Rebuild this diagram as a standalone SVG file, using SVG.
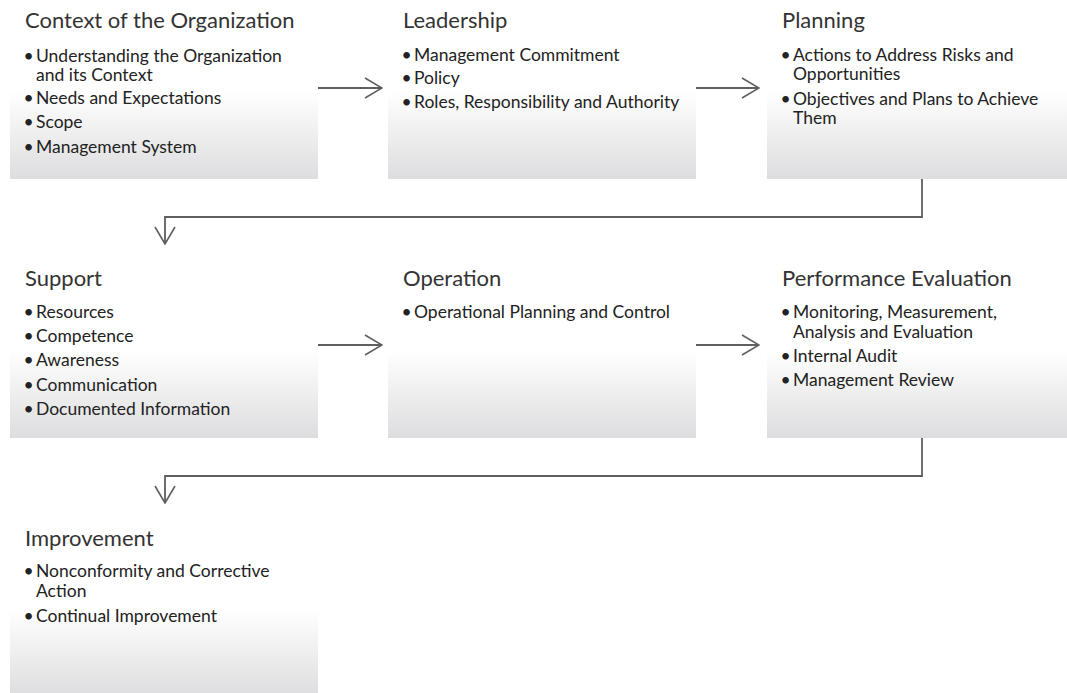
<svg xmlns="http://www.w3.org/2000/svg" width="1067" height="693" viewBox="0 0 1067 693">
<style>
.box{fill:url(#g)}
.t{font-family:Lato,"Liberation Sans",sans-serif;font-size:22px;fill:#333}
.b{font-family:Lato,"Liberation Sans",sans-serif;font-size:17.5px;fill:#222}
.d{font-family:Lato,"Liberation Sans",sans-serif;font-size:17.5px;fill:#222;text-anchor:middle}
.c{fill:none;stroke:#5f5f5f;stroke-width:1.8}
</style>
<defs>
<linearGradient id="g" x1="0" y1="0" x2="0" y2="1">
<stop offset="0" stop-color="#ffffff"/>
<stop offset="0.5" stop-color="#ffffff"/>
<stop offset="1" stop-color="#dddddf"/>
</linearGradient>
<marker id="a" viewBox="0 0 20 24" refX="19" refY="12" markerWidth="20" markerHeight="24" markerUnits="userSpaceOnUse" orient="auto">
<path d="M2,2 L19,12 L2,22" fill="none" stroke="#5f5f5f" stroke-width="1.6"/>
</marker>
</defs>
<rect width="1067" height="693" fill="#fff"/>

<g id="connectors">
<path class="c" d="M318,88 H382" marker-end="url(#a)"/>
<path class="c" d="M696,88 H759" marker-end="url(#a)"/>
<path class="c" d="M922,179 V217 H165 V244" marker-end="url(#a)"/>
<path class="c" d="M318,345 H382" marker-end="url(#a)"/>
<path class="c" d="M696,345 H759" marker-end="url(#a)"/>
<path class="c" d="M922,438 V476 H165 V503" marker-end="url(#a)"/>
</g>

<g id="context">
<rect class="box" x="10" y="4" width="308" height="175"/>
<text class="t" x="25" y="28">Context of the Organization</text>
<text class="d" x="28.5" y="62">•</text>
<text class="b" x="36" y="62">Understanding the Organization</text>
<text class="b" x="36" y="81">and its Context</text>
<text class="d" x="28.5" y="104">•</text>
<text class="b" x="36" y="104">Needs and Expectations</text>
<text class="d" x="28.5" y="128">•</text>
<text class="b" x="36" y="128">Scope</text>
<text class="d" x="28.5" y="153">•</text>
<text class="b" x="36" y="153">Management System</text>
</g>

<g id="leadership">
<rect class="box" x="388" y="4" width="308" height="175"/>
<text class="t" x="403" y="28">Leadership</text>
<text class="d" x="406.5" y="61">•</text>
<text class="b" x="414" y="61">Management Commitment</text>
<text class="d" x="406.5" y="84">•</text>
<text class="b" x="414" y="84">Policy</text>
<text class="d" x="406.5" y="108">•</text>
<text class="b" x="414" y="108">Roles, Responsibility and Authority</text>
</g>

<g id="planning">
<rect class="box" x="767" y="4" width="300" height="175"/>
<text class="t" x="782" y="28">Planning</text>
<text class="d" x="785.5" y="61">•</text>
<text class="b" x="793" y="61">Actions to Address Risks and</text>
<text class="b" x="793" y="80">Opportunities</text>
<text class="d" x="785.5" y="105">•</text>
<text class="b" x="793" y="105">Objectives and Plans to Achieve</text>
<text class="b" x="793" y="124">Them</text>
</g>

<g id="support">
<rect class="box" x="10" y="263" width="308" height="175"/>
<text class="t" x="25" y="286">Support</text>
<text class="d" x="28.5" y="318">•</text>
<text class="b" x="36" y="318">Resources</text>
<text class="d" x="28.5" y="342">•</text>
<text class="b" x="36" y="342">Competence</text>
<text class="d" x="28.5" y="366">•</text>
<text class="b" x="36" y="366">Awareness</text>
<text class="d" x="28.5" y="391">•</text>
<text class="b" x="36" y="391">Communication</text>
<text class="d" x="28.5" y="415">•</text>
<text class="b" x="36" y="415">Documented Information</text>
</g>

<g id="operation">
<rect class="box" x="388" y="263" width="308" height="175"/>
<text class="t" x="403" y="286">Operation</text>
<text class="d" x="406.5" y="318">•</text>
<text class="b" x="414" y="318">Operational Planning and Control</text>
</g>

<g id="performance">
<rect class="box" x="767" y="263" width="300" height="175"/>
<text class="t" x="782" y="286">Performance Evaluation</text>
<text class="d" x="785.5" y="318">•</text>
<text class="b" x="793" y="318">Monitoring, Measurement,</text>
<text class="b" x="793" y="338">Analysis and Evaluation</text>
<text class="d" x="785.5" y="362">•</text>
<text class="b" x="793" y="362">Internal Audit</text>
<text class="d" x="785.5" y="386">•</text>
<text class="b" x="793" y="386">Management Review</text>
</g>

<g id="improvement">
<rect class="box" x="10" y="522" width="308" height="175"/>
<text class="t" x="25" y="546">Improvement</text>
<text class="d" x="28.5" y="577">•</text>
<text class="b" x="36" y="577">Nonconformity and Corrective</text>
<text class="b" x="36" y="597">Action</text>
<text class="d" x="28.5" y="622">•</text>
<text class="b" x="36" y="622">Continual Improvement</text>
</g>
</svg>
